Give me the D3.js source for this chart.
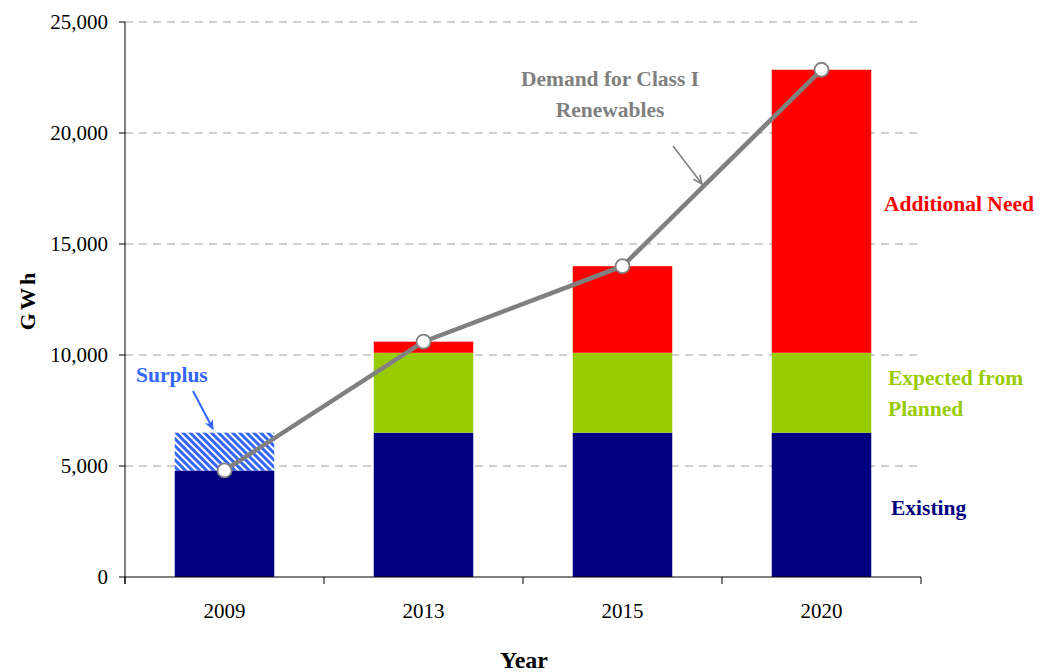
<!DOCTYPE html>
<html>
<head>
<meta charset="utf-8">
<script src="https://cdn.jsdelivr.net/npm/d3@7"></script>
<style>
  html, body { margin: 0; padding: 0; background: #fff; }
  svg { display: block; font-family: "Liberation Serif", "Times New Roman", serif; }
</style>
</head>
<body>
<svg id="chart" width="1040" height="672"></svg>
<script>
// Class I renewable supply vs. demand (GWh)
const years      = ["2009", "2013", "2015", "2020"];
const existing   = [4800, 6500, 6500, 6500];
const surplus    = [1700, 0, 0, 0];
const planned    = [0, 3600, 3600, 3600];
const additional = [0, 500, 3900, 12750];
const demand     = [4800, 10600, 14000, 22850];
const yTicks     = [0, 5000, 10000, 15000, 20000, 25000];

const svg = d3.select("#chart");
const plotLeft = 125, plotRight = 921, plotTop = 22, plotBottom = 577;

const x = d3.scaleBand().domain(years).range([plotLeft, plotRight]).paddingInner(0.5).paddingOuter(0.25);
const y = d3.scaleLinear().domain([0, 25000]).range([plotBottom, plotTop]);

// hatch for surplus
const defs = svg.append("defs");
const pat = defs.append("pattern").attr("id", "hatch").attr("patternUnits", "userSpaceOnUse")
  .attr("width", 5).attr("height", 5).attr("patternTransform", "rotate(-45)");
pat.append("rect").attr("width", 5).attr("height", 5).attr("fill", "#3366FF");
pat.append("rect").attr("width", 2).attr("height", 5).attr("fill", "#fff");

["grayArrow", "blueArrow"].forEach((id, i) => {
  defs.append("marker").attr("id", id).attr("viewBox", "0 0 10 10")
    .attr("refX", 9).attr("refY", 5).attr("markerWidth", 10).attr("markerHeight", 10)
    .attr("markerUnits", "userSpaceOnUse").attr("orient", "auto")
    .append("path").attr("d", i === 0 ? "M0,1 L9,5 L0,9" : "M0,0.5 L10,5 L0,9.5 L3,5 Z")
    .attr("fill", i === 0 ? "none" : "#3366FF")
    .attr("stroke", i === 0 ? "#808080" : "none").attr("stroke-width", 1.6);
});

// grid
svg.append("g").selectAll("line").data(yTicks.filter(d => d > 0)).join("line")
  .attr("x1", plotLeft).attr("x2", plotRight).attr("y1", d => y(d)).attr("y2", d => y(d))
  .attr("stroke", "#a0a0a0").attr("stroke-width", 1).attr("stroke-dasharray", "8,6");

// stacked bars
const layers = [
  { vals: existing, fill: "#000080" },
  { vals: surplus, fill: "url(#hatch)" },
  { vals: planned, fill: "#99CC00" },
  { vals: additional, fill: "#FF0000" }
];
const base = years.map(() => 0);
layers.forEach(layer => {
  const rows = years.map((yr, i) => ({ yr, y0: base[i], y1: base[i] + layer.vals[i] }));
  rows.forEach((r, i) => base[i] = r.y1);
  svg.append("g").selectAll("rect").data(rows.filter(r => r.y1 > r.y0)).join("rect")
    .attr("x", r => x(r.yr)).attr("width", x.bandwidth())
    .attr("y", r => y(r.y1)).attr("height", r => y(r.y0) - y(r.y1))
    .attr("fill", layer.fill);
});

// axes
const axisColor = "#000";
svg.append("line").attr("x1", plotLeft).attr("x2", plotLeft).attr("y1", plotTop).attr("y2", plotBottom + 7).attr("stroke", axisColor);
svg.append("line").attr("x1", plotLeft).attr("x2", plotRight).attr("y1", plotBottom).attr("y2", plotBottom).attr("stroke", axisColor);
svg.append("g").selectAll("line").data(yTicks).join("line")
  .attr("x1", plotLeft - 6).attr("x2", plotLeft).attr("y1", d => y(d)).attr("y2", d => y(d)).attr("stroke", axisColor);
svg.append("g").selectAll("text").data(yTicks).join("text")
  .attr("x", plotLeft - 17).attr("y", d => y(d)).attr("dy", "0.35em").attr("text-anchor", "end")
  .attr("font-size", 21).text(d => d3.format(",")(d));
const bounds = d3.range(years.length + 1).map(i => plotLeft + i * x.step());
svg.append("g").selectAll("line").data(bounds).join("line")
  .attr("x1", d => d).attr("x2", d => d).attr("y1", plotBottom).attr("y2", plotBottom + 7).attr("stroke", axisColor);
svg.append("g").selectAll("text").data(years).join("text")
  .attr("x", d => x(d) + x.bandwidth() / 2).attr("y", 618).attr("text-anchor", "middle")
  .attr("font-size", 21).text(d => d);

svg.append("text").attr("transform", "translate(35,300) rotate(-90)").attr("text-anchor", "middle")
  .attr("font-size", 22).attr("font-weight", "bold").attr("letter-spacing", 3).text("GWh");
svg.append("text").attr("x", 524).attr("y", 668).attr("text-anchor", "middle")
  .attr("font-size", 24).attr("font-weight", "bold").text("Year");

// demand line
const line = d3.line().x((d, i) => x(years[i]) + x.bandwidth() / 2).y(d => y(d));
svg.append("path").datum(demand).attr("d", line).attr("fill", "none")
  .attr("stroke", "#808080").attr("stroke-width", 4.5);
svg.append("g").selectAll("circle").data(demand).join("circle")
  .attr("cx", (d, i) => x(years[i]) + x.bandwidth() / 2).attr("cy", d => y(d)).attr("r", 7)
  .attr("fill", "#fff").attr("stroke", "#808080").attr("stroke-width", 1.8);

// annotations
function label(lines, cx, cy, color, anchor) {
  const t = svg.append("text").attr("font-size", 21.5).attr("font-weight", "bold")
    .attr("fill", color).attr("text-anchor", anchor || "middle");
  lines.forEach((s, i) => t.append("tspan").attr("x", cx).attr("y", cy + i * 31).text(s));
}
label(["Demand for Class I", "Renewables"], 610, 86, "#808080");
label(["Additional Need"], 884, 211, "#FF0000", "start");
label(["Expected from", "Planned"], 888, 385, "#99CC00", "start");
label(["Existing"], 891, 515, "#000080", "start");
label(["Surplus"], 136, 382, "#3366FF", "start");

svg.append("line").attr("x1", 673).attr("y1", 146).attr("x2", 702).attr("y2", 184)
  .attr("stroke", "#808080").attr("stroke-width", 1.6).attr("marker-end", "url(#grayArrow)");
svg.append("line").attr("x1", 193).attr("y1", 391).attr("x2", 213).attr("y2", 429)
  .attr("stroke", "#3366FF").attr("stroke-width", 2).attr("marker-end", "url(#blueArrow)");
</script>
</body>
</html>
